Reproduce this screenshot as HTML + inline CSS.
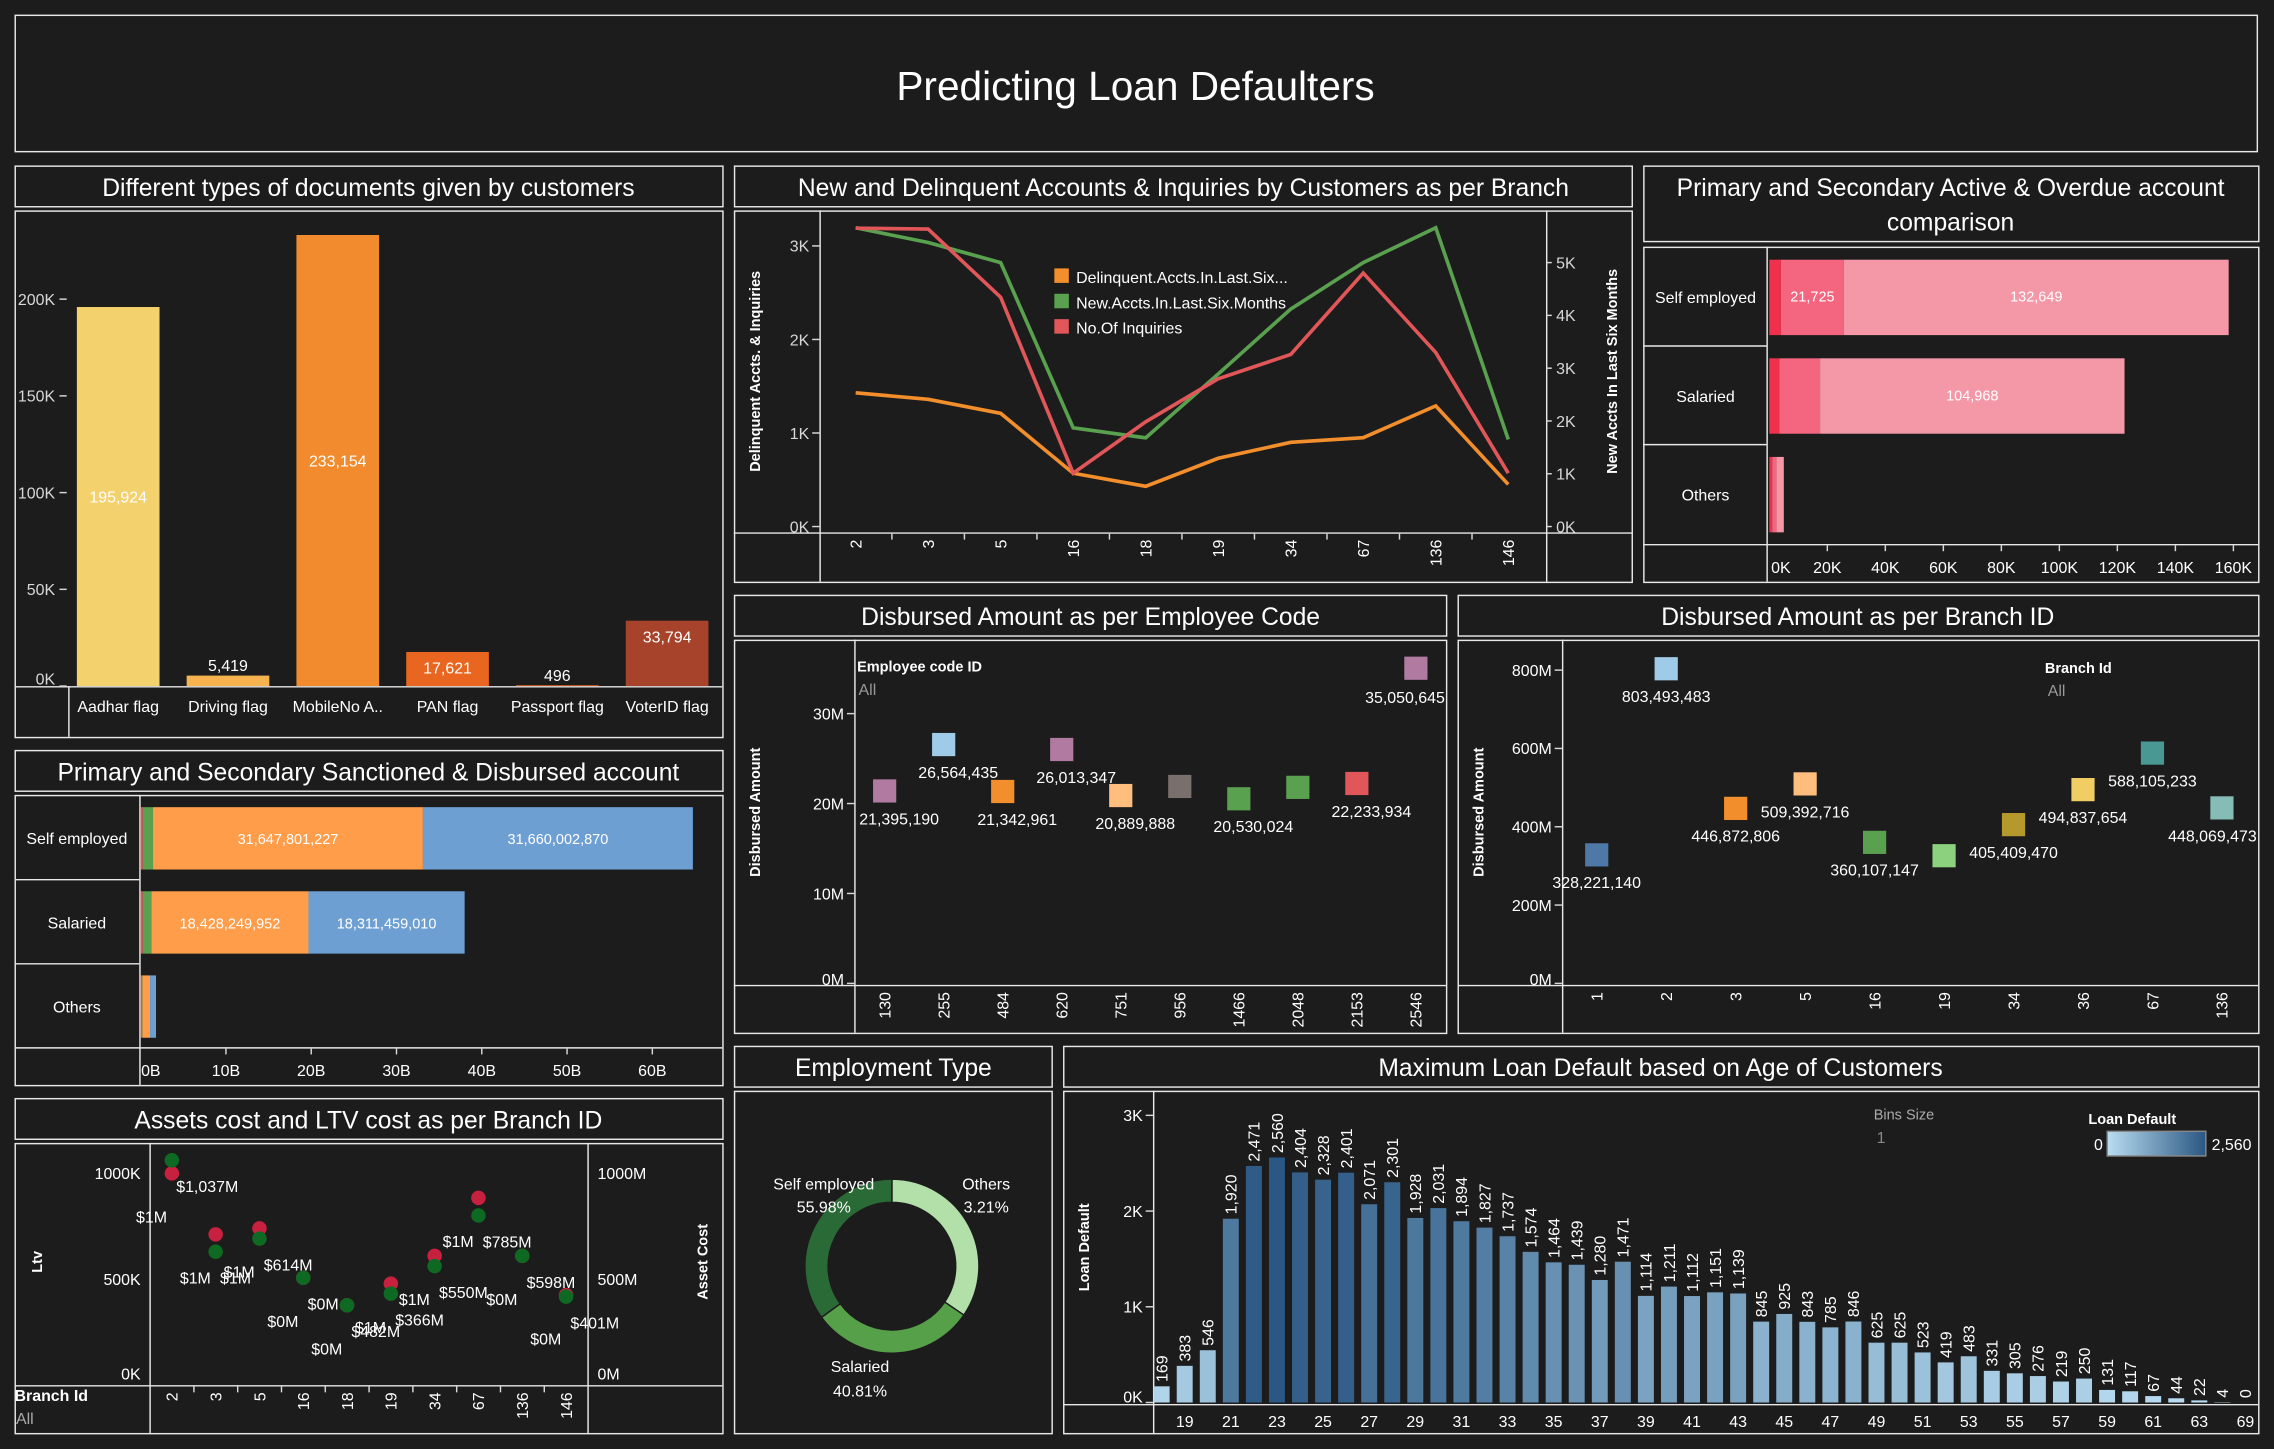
<!DOCTYPE html>
<html><head><meta charset="utf-8"><title>Predicting Loan Defaulters</title>
<style>
html,body{margin:0;padding:0;background:#1c1c1c;}
svg{display:block;}
text{font-family:"Liberation Sans",sans-serif;}
</style></head>
<body>
<svg id="dash" xmlns="http://www.w3.org/2000/svg" width="2274" height="1449" viewBox="0 0 1568 999">
<rect x="0" y="0" width="1568" height="999" fill="#1c1c1c"/>
<g fill="none" stroke="#e8e8e8" stroke-width="1">
<rect x="10.5" y="10.5" width="1546" height="94"/>
<rect x="10.5" y="114.5" width="488" height="28"/>
<rect x="10.5" y="145.5" width="488" height="363"/>
<rect x="506.5" y="114.5" width="619" height="28"/>
<rect x="506.5" y="145.5" width="619" height="256"/>
<rect x="1133.5" y="114.5" width="424" height="52"/>
<rect x="1133.5" y="170.5" width="424" height="231"/>
<rect x="10.5" y="517.5" width="488" height="28"/>
<rect x="10.5" y="548.5" width="488" height="200"/>
<rect x="10.5" y="757.5" width="488" height="28"/>
<rect x="10.5" y="788.5" width="488" height="200"/>
<rect x="506.5" y="410.5" width="491" height="28"/>
<rect x="506.5" y="441.5" width="491" height="271"/>
<rect x="1005.5" y="410.5" width="552" height="28"/>
<rect x="1005.5" y="441.5" width="552" height="271"/>
<rect x="506.5" y="721.5" width="219" height="28"/>
<rect x="506.5" y="752.5" width="219" height="236"/>
<rect x="733.5" y="721.5" width="824" height="28"/>
<rect x="733.5" y="752.5" width="824" height="236"/>
<line x1="10" y1="473.5" x2="498" y2="473.5"/><line x1="47.5" y1="473" x2="47.5" y2="508"/>
<line x1="506" y1="367.5" x2="1125" y2="367.5"/><line x1="565.5" y1="145" x2="565.5" y2="401"/><line x1="1066.5" y1="145" x2="1066.5" y2="401"/>
<line x1="1133" y1="238.5" x2="1218" y2="238.5"/><line x1="1133" y1="306.5" x2="1218" y2="306.5"/><line x1="1133" y1="375.5" x2="1557" y2="375.5"/><line x1="1218.5" y1="170" x2="1218.5" y2="401"/>
<line x1="10" y1="606.5" x2="96" y2="606.5"/><line x1="10" y1="664.5" x2="96" y2="664.5"/><line x1="10" y1="722.5" x2="498" y2="722.5"/><line x1="96.5" y1="548" x2="96.5" y2="748"/>
<line x1="10" y1="955.5" x2="498" y2="955.5"/><line x1="103.5" y1="788" x2="103.5" y2="988"/><line x1="405.5" y1="788" x2="405.5" y2="988"/>
<line x1="506" y1="679.5" x2="997" y2="679.5"/><line x1="589.5" y1="441" x2="589.5" y2="712"/>
<line x1="1005" y1="679.5" x2="1557" y2="679.5"/><line x1="1077.5" y1="441" x2="1077.5" y2="712"/>
<line x1="733" y1="968.5" x2="1557" y2="968.5"/><line x1="795.5" y1="752" x2="795.5" y2="988"/>
</g>
<g fill="#ffffff" text-anchor="middle" font-size="17">
<text x="783" y="69" font-size="28">Predicting Loan Defaulters</text>
<text x="254" y="135">Different types of documents given by customers</text>
<text x="816" y="135">New and Delinquent Accounts &amp; Inquiries by Customers as per Branch</text>
<text x="1345" y="135">Primary and Secondary Active &amp; Overdue account</text>
<text x="1345" y="159">comparison</text>
<text x="254" y="538">Primary and Secondary Sanctioned &amp; Disbursed account</text>
<text x="254" y="778">Assets cost and LTV cost as per Branch ID</text>
<text x="752" y="431">Disbursed Amount as per Employee Code</text>
<text x="1281" y="431">Disbursed Amount as per Branch ID</text>
<text x="616" y="742">Employment Type</text>
<text x="1145" y="742">Maximum Loan Default based on Age of Customers</text>
</g>
<g id="charts"></g>
</svg>
<script>
// ---------- DATA ----------
const docCats = ['Aadhar flag','Driving flag','MobileNo A..','PAN flag','Passport flag','VoterID flag'];
const docVals = [195924, 5419, 233154, 17621, 496, 33794];
const docTicks = [0, 50000, 100000, 150000, 200000];
const docTickLabels = ['0K','50K','100K','150K','200K'];

const branchCats = ['2','3','5','16','18','19','34','67','136','146'];
const delinqVals = [1430, 1360, 1210, 570, 430, 730, 900, 950, 1290, 450];
const inquiryVals = [3190, 3180, 2450, 570, 1120, 1580, 1840, 2710, 1860, 570];
const newAcctVals = [5660, 5380, 5000, 1870, 1680, 2890, 4120, 5000, 5660, 1650];
const leftTicks = [0, 1000, 2000, 3000];
const leftTickLabels = ['0K','1K','2K','3K'];
const rightTicks = [0, 1000, 2000, 3000, 4000, 5000];
const rightTickLabels = ['0K','1K','2K','3K','4K','5K'];

const empRows = ['Self employed','Salaried','Others'];
const overdueSeg1 = [4000, 3500, 1000];
const overdueSeg2 = [21725, 14000, 1500];
const overdueSeg3 = [132649, 104968, 2500];
const overdueTicks = [0,20000,40000,60000,80000,100000,120000,140000,160000];
const overdueTickLabels = ['0K','20K','40K','60K','80K','100K','120K','140K','160K'];

const sancSeg1 = [0.25e9, 0.25e9, 0.1e9];
const sancSeg2 = [1.2e9, 1.0e9, 0.1e9];
const sanctionedVals = [31647801227, 18428249952, 0.9e9];
const disbursedVals = [31660002870, 18311459010, 0.7e9];
const sancTicks = [0,10e9,20e9,30e9,40e9,50e9,60e9];
const sancTickLabels = ['0B','10B','20B','30B','40B','50B','60B'];

const ltvVals = [1000, 712, 740, 507, 377, 479, 610, 884, 610, 425];
const assetVals = [1062, 630, 692, 507, 377, 432, 562, 801, 610, 418];
const assetLabels = ['$1,037M','$1M','$614M','$0M','$482M','$366M','$550M','$785M','$598M','$401M'];
const ltvLabels = ['$1M','$1M','$1M','$0M','$0M','$1M','$1M','$1M','$0M','$0M'];
const ltvTicks = [0, 500, 1000];
const ltvTickLabels = ['0K','500K','1000K'];
const assetTickLabels = ['0M','500M','1000M'];

const empCodes = ['130','255','484','620','751','956','1466','2048','2153','2546'];
const empAmounts = [21.40, 26.56, 21.34, 26.01, 20.89, 21.9, 20.53, 21.8, 22.23, 35.05];
const empLabels = ['21,395,190','26,564,435','21,342,961','26,013,347','20,889,888','','20,530,024','','22,233,934','35,050,645'];
const empTicks = [0, 10, 20, 30];
const empTickLabels = ['0M','10M','20M','30M'];

const brIds = ['1','2','3','5','16','19','34','36','67','136'];
const brAmounts = [328.2, 803.5, 446.9, 509.4, 360.1, 326, 405.4, 494.8, 588.1, 448.1];
const brLabels = ['328,221,140','803,493,483','446,872,806','509,392,716','360,107,147','','405,409,470','494,837,654','588,105,233','448,069,473'];
const brTicks = [0, 200, 400, 600, 800];
const brTickLabels = ['0M','200M','400M','600M','800M'];

const empTypes = ['Others','Salaried','Self employed'];
const empShares = [34.5, 30.5, 35.0];
const empPctLabels = ['3.21%','40.81%','55.98%'];

const ageCats = ['18','19','20','21','22','23','24','25','26','27','28','29','30','31','32','33','34','35','36','37','38','39','40','41','42','43','44','45','46','47','48','49','50','51','52','53','54','55','56','57','58','59','60','61','62','63','64','69'];
const ageVals = [169,383,546,1920,2471,2560,2404,2328,2401,2071,2301,1928,2031,1894,1827,1737,1574,1464,1439,1280,1471,1114,1211,1112,1151,1139,845,925,843,785,846,625,625,523,419,483,331,305,276,219,250,131,117,67,44,22,4,0];
const ageTicks = [0, 1000, 2000, 3000];
const ageTickLabels = ['0K','1K','2K','3K'];

// ---------- HELPERS ----------
const NS = 'http://www.w3.org/2000/svg';
const root = document.getElementById('charts');
function mk(tag, attrs, parent, txt) {
  const e = document.createElementNS(NS, tag);
  for (const k in attrs) e.setAttribute(k, attrs[k]);
  if (txt !== undefined) e.textContent = txt;
  (parent || root).appendChild(e);
  return e;
}
function grp(name) {
  const g = mk('g', {});
  
  
  return g;
}
function fmt(n) { return Math.round(n).toLocaleString('en-US'); }
const TICK = '#d8d8d8';

// ---------- CHART 1 ----------
(function(){
  const g = grp('documents-chart');
  const y = v => 473 - v / 50000 * 66.7;
  const x = i => 81.5 + i * 75.7;
  const cols = ['#f3d16d','#f6b24e','#f28b2e','#e8661f','#cf561e','#a7422b'];
  docTicks.forEach((t, i) => {
    const tl = mk('text', {x: 38, y: y(t) + 4 - (i === 0 ? 5 : 0), fill: TICK, 'font-size': 11, 'text-anchor': 'end'}, g, docTickLabels[i]);
    
    
    mk('line', {x1: 41, x2: 46, y1: y(t), y2: y(t), stroke: TICK}, g);
  });
  docVals.forEach((v, i) => {
    const r = mk('rect', {x: x(i) - 28.5, y: y(v), width: 57, height: 473 - y(v), fill: cols[i]}, g);
    
    
    const h = 473 - y(v);
    const ly = h > 20 ? (h > 60 ? y(v) + h / 2 + 4 : y(v) + 15) : y(v) - 3;
    const lt = mk('text', {x: x(i), y: ly, fill: '#fff', 'font-size': 11, 'text-anchor': 'middle'}, g, fmt(v));
    
    
    const ct = mk('text', {x: x(i), y: 491, fill: '#fff', 'font-size': 11, 'text-anchor': 'middle'}, g, docCats[i]);
    
    
  });
})();

// ---------- CHART 2 ----------
(function(){
  const g = grp('accounts-line-chart');
  const x = i => 590 + i * 50;
  const yl = v => 363 - v / 1000 * 64.5;
  const yr = v => 363 - v / 1000 * 36.4;
  leftTicks.forEach((t, i) => {
    const tl = mk('text', {x: 558, y: yl(t) + 4, fill: TICK, 'font-size': 11, 'text-anchor': 'end'}, g, leftTickLabels[i]);
    
    
    mk('line', {x1: 560, x2: 565, y1: yl(t), y2: yl(t), stroke: TICK}, g);
  });
  rightTicks.forEach((t, i) => {
    const tl = mk('text', {x: 1073, y: yr(t) + 4, fill: TICK, 'font-size': 11}, g, rightTickLabels[i]);
    
    
    mk('line', {x1: 1066, x2: 1070, y1: yr(t), y2: yr(t), stroke: TICK}, g);
  });
  branchCats.forEach((c, i) => {
    const tl = mk('text', {x: 0, y: 0, fill: '#fff', 'font-size': 11, 'text-anchor': 'end', transform: `translate(${x(i) + 4},372) rotate(-90)`}, g, c);
    
    
    if (i > 0) mk('line', {x1: x(i) - 25, x2: x(i) - 25, y1: 368, y2: 372, stroke: TICK}, g);
  });
  const series = [[delinqVals, yl, '#f28e2b', 'delinquent-line'], [newAcctVals, yr, '#59a14f', 'new-accounts-line'], [inquiryVals, yl, '#e15759', 'inquiries-line']];
  series.forEach(s => {
    const pts = s[0].map((v, i) => x(i) + ',' + s[1](v)).join(' ');
    const p = mk('polyline', {points: pts, fill: 'none', stroke: s[2], 'stroke-width': 2.5}, g);
    
    
  });
  const legNames = ['Delinquent.Accts.In.Last.Six...','New.Accts.In.Last.Six.Months','No.Of Inquiries'];
  const legCols = ['#f28e2b','#59a14f','#e15759'];
  legNames.forEach((n, i) => {
    const lg = mk('g', {}, g);
    
    
    mk('rect', {x: 727, y: 185 + i * 17.5, width: 10, height: 10, fill: legCols[i]}, lg);
    mk('text', {x: 742, y: 195 + i * 17.5, fill: '#fff', 'font-size': 11}, lg, n);
  });
  const a1 = mk('text', {x: 0, y: 0, fill: '#fff', 'font-size': 10, 'font-weight': 'bold', 'text-anchor': 'middle', transform: 'translate(524,256) rotate(-90)'}, g, 'Delinquent Accts. & Inquiries');
  
  
  const a2 = mk('text', {x: 0, y: 0, fill: '#fff', 'font-size': 10, 'font-weight': 'bold', 'text-anchor': 'middle', transform: 'translate(1115,256) rotate(-90)'}, g, 'New Accts In Last Six Months');
  
  
})();

// ---------- CHART 3 ----------
(function(){
  const g = grp('active-overdue-chart');
  const x = v => 1220 + v / 1000 * 2.0;
  const cols = ['#f0304d','#f46680','#f497a7'];
  overdueTicks.forEach((t, i) => {
    const tl = mk('text', {x: Math.max(x(t), 1228), y: 395, fill: '#fff', 'font-size': 11, 'text-anchor': 'middle'}, g, overdueTickLabels[i]);
    
    
    if (i > 0) mk('line', {x1: x(t), x2: x(t), y1: 376, y2: 380, stroke: TICK}, g);
  });
  empRows.forEach((r, i) => {
    const cy = 205 + i * 68;
    const rl = mk('text', {x: 1176, y: cy + 4, fill: '#fff', 'font-size': 11, 'text-anchor': 'middle'}, g, r);
    
    
    let acc = 0;
    [overdueSeg1[i], overdueSeg2[i], overdueSeg3[i]].forEach((v, k) => {
      const b = mk('rect', {x: x(acc), y: cy - 26, width: x(acc + v) - x(acc), height: 52, fill: cols[k]}, g);
      
      
      if (x(acc + v) - x(acc) > 40 && k > 0) {
        mk('text', {x: (x(acc) + x(acc + v)) / 2, y: cy + 3, fill: '#fff', 'font-size': 10, 'text-anchor': 'middle'}, g, fmt(v));
      }
      acc += v;
    });
  });
})();

// ---------- CHART 4 ----------
(function(){
  const g = grp('sanctioned-disbursed-chart');
  const x = v => 97 + v / 1e9 * 5.88;
  const cols = ['#e15759','#59a14f','#ff9d4a','#6e9fd3'];
  sancTicks.forEach((t, i) => {
    const tl = mk('text', {x: Math.max(x(t), 104), y: 742, fill: '#fff', 'font-size': 11, 'text-anchor': 'middle'}, g, sancTickLabels[i]);
    
    
    if (i > 0) mk('line', {x1: x(t), x2: x(t), y1: 723, y2: 727, stroke: TICK}, g);
  });
  empRows.forEach((r, i) => {
    const cy = 578 + i * 58;
    const rl = mk('text', {x: 53, y: cy + 4, fill: '#fff', 'font-size': 11, 'text-anchor': 'middle'}, g, r);
    
    
    let acc = 0;
    [sancSeg1[i], sancSeg2[i], sanctionedVals[i], disbursedVals[i]].forEach((v, k) => {
      const b = mk('rect', {x: x(acc), y: cy - 21.5, width: x(acc + v) - x(acc), height: 43, fill: cols[k]}, g);
      
      
      if (x(acc + v) - x(acc) > 60) {
        mk('text', {x: (x(acc) + x(acc + v)) / 2, y: cy + 4, fill: '#fff', 'font-size': 10, 'text-anchor': 'middle'}, g, fmt(v));
      }
      acc += v;
    });
  });
})();

// ---------- CHART 5 ----------
(function(){
  const g = grp('assets-ltv-chart');
  const x = i => 118.5 + i * 30.2;
  const y = v => 955 - v * 0.146;
  ltvTicks.forEach((t, i) => {
    const tl = mk('text', {x: 97, y: y(t) + 4 - (i === 0 ? 8 : 0), fill: '#fff', 'font-size': 11, 'text-anchor': 'end'}, g, ltvTickLabels[i]);
    
    
    const tr = mk('text', {x: 412, y: y(t) + 4 - (i === 0 ? 8 : 0), fill: '#fff', 'font-size': 11}, g, assetTickLabels[i]);
    
    
  });
  branchCats.forEach((c, i) => {
    const tl = mk('text', {x: 0, y: 0, fill: '#fff', 'font-size': 11, 'text-anchor': 'end', transform: `translate(${x(i) + 4},960) rotate(-90)`}, g, c);
    
    
    if (i > 0) mk('line', {x1: x(i) - 15, x2: x(i) - 15, y1: 956, y2: 960, stroke: TICK}, g);
  });
  branchCats.forEach((c, i) => {
    const r = mk('circle', {cx: x(i), cy: y(ltvVals[i]), r: 5, fill: '#c8203f'}, g);
    
    
    const gr = mk('circle', {cx: x(i), cy: y(assetVals[i]), r: 5, fill: '#0e6a22'}, g);
    
    
    mk('text', {x: x(i) + 3, y: y(assetVals[i]) + 22, fill: '#fff', 'font-size': 11}, g, assetLabels[i]);
    mk('text', {x: x(i) - 14, y: y(ltvVals[i]) + 34, fill: '#fff', 'font-size': 11, 'text-anchor': 'middle'}, g, ltvLabels[i]);
  });
  const a1 = mk('text', {x: 0, y: 0, fill: '#fff', 'font-size': 10, 'font-weight': 'bold', 'text-anchor': 'middle', transform: 'translate(29,870) rotate(-90)'}, g, 'Ltv');
  
  
  const a2 = mk('text', {x: 0, y: 0, fill: '#fff', 'font-size': 10, 'font-weight': 'bold', 'text-anchor': 'middle', transform: 'translate(488,870) rotate(-90)'}, g, 'Asset Cost');
  
  
  const f1 = mk('text', {x: 10, y: 966, fill: '#fff', 'font-size': 11, 'font-weight': 'bold'}, g, 'Branch Id');
  
  
  const f2 = mk('text', {x: 11, y: 982, fill: '#aaa', 'font-size': 11}, g, 'All');
  
  
})();

// ---------- CHART 6 ----------
(function(){
  const g = grp('employee-code-chart');
  const x = i => 610 + i * 40.7;
  const y = v => 678 - v * 6.2;
  const cols = ['#b07aa1','#a0cbe8','#f28e2b','#b07aa1','#ffbe7d','#79706e','#59a14f','#59a14f','#e15759','#b07aa1'];
  empTicks.forEach((t, i) => {
    const tl = mk('text', {x: 582, y: y(t) + 4 - (i === 0 ? 3 : 0), fill: '#fff', 'font-size': 11, 'text-anchor': 'end'}, g, empTickLabels[i]);
    
    
    mk('line', {x1: 584, x2: 589, y1: y(t), y2: y(t), stroke: TICK}, g);
  });
  empCodes.forEach((c, i) => {
    const tl = mk('text', {x: 0, y: 0, fill: '#fff', 'font-size': 11, 'text-anchor': 'end', transform: `translate(${x(i) + 4},684) rotate(-90)`}, g, c);
    
    
    const s = mk('rect', {x: x(i) - 8, y: y(empAmounts[i]) - 8, width: 16, height: 16, fill: cols[i]}, g);
    
    
    if (empLabels[i]) {
      const right = x(i) > 960;
      mk('text', {x: right ? x(i) + 20 : x(i) + 10, y: y(empAmounts[i]) + (right ? 24 : 23), fill: '#fff', 'font-size': 11, 'text-anchor': right ? 'end' : 'middle'}, g, empLabels[i]);
    }
  });
  const a1 = mk('text', {x: 0, y: 0, fill: '#fff', 'font-size': 10, 'font-weight': 'bold', 'text-anchor': 'middle', transform: 'translate(524,560) rotate(-90)'}, g, 'Disbursed Amount');
  
  
  const f1 = mk('text', {x: 591, y: 463, fill: '#fff', 'font-size': 10, 'font-weight': 'bold'}, g, 'Employee code ID');
  
  
  const f2 = mk('text', {x: 592, y: 479, fill: '#999', 'font-size': 11}, g, 'All');
  
  
})();

// ---------- CHART 7 ----------
(function(){
  const g = grp('branch-id-chart');
  const x = i => 1101 + i * 47.9;
  const y = v => 678 - v * 0.27;
  const cols = ['#4e79a7','#a0cbe8','#f28e2b','#ffbe7d','#59a14f','#8cd17d','#b6992d','#f1ce63','#499894','#86bcb6'];
  brTicks.forEach((t, i) => {
    const tl = mk('text', {x: 1070, y: y(t) + 4 - (i === 0 ? 3 : 0), fill: '#fff', 'font-size': 11, 'text-anchor': 'end'}, g, brTickLabels[i]);
    
    
    mk('line', {x1: 1072, x2: 1077, y1: y(t), y2: y(t), stroke: TICK}, g);
  });
  brIds.forEach((c, i) => {
    const tl = mk('text', {x: 0, y: 0, fill: '#fff', 'font-size': 11, 'text-anchor': 'end', transform: `translate(${x(i) + 4},684) rotate(-90)`}, g, c);
    
    
    const s = mk('rect', {x: x(i) - 8, y: y(brAmounts[i]) - 8, width: 16, height: 16, fill: cols[i]}, g);
    
    
    if (brLabels[i]) {
      const right = x(i) > 1500;
      mk('text', {x: right ? x(i) + 24 : x(i), y: y(brAmounts[i]) + 23, fill: '#fff', 'font-size': 11, 'text-anchor': right ? 'end' : 'middle'}, g, brLabels[i]);
    }
  });
  const a1 = mk('text', {x: 0, y: 0, fill: '#fff', 'font-size': 10, 'font-weight': 'bold', 'text-anchor': 'middle', transform: 'translate(1023,560) rotate(-90)'}, g, 'Disbursed Amount');
  
  
  const f1 = mk('text', {x: 1410, y: 464, fill: '#fff', 'font-size': 10, 'font-weight': 'bold'}, g, 'Branch Id');
  
  
  const f2 = mk('text', {x: 1412, y: 480, fill: '#999', 'font-size': 11}, g, 'All');
  
  
})();

// ---------- CHART 8 ----------
(function(){
  const g = grp('employment-donut');
  const cx = 615, cy = 873, ro = 60, ri = 44;
  const cols = ['#b3dfa9','#55a048','#2a6a36'];
  const total = empShares.reduce((a, b) => a + b, 0);
  let a0 = 0;
  empShares.forEach((v, i) => {
    const a1 = a0 + v / total * Math.PI * 2;
    const p = (r, a) => [cx + r * Math.sin(a), cy - r * Math.cos(a)];
    const large = (a1 - a0) > Math.PI ? 1 : 0;
    const [x1, y1] = p(ro, a0), [x2, y2] = p(ro, a1), [x3, y3] = p(ri, a1), [x4, y4] = p(ri, a0);
    const s = mk('path', {d: `M${x1},${y1} A${ro},${ro} 0 ${large} 1 ${x2},${y2} L${x3},${y3} A${ri},${ri} 0 ${large} 0 ${x4},${y4} Z`, fill: cols[i], stroke: '#1c1c1c', 'stroke-width': 1}, g);
    
    
    a0 = a1;
  });
  const lbl = [[568, 820, 836], [680, 820, 836], [593, 946, 963]];
  const order = [2, 0, 1];
  order.forEach((k, j) => {
    const t1 = mk('text', {x: lbl[j][0], y: lbl[j][1], fill: '#fff', 'font-size': 11, 'text-anchor': 'middle'}, g, empTypes[k]);
    
    
    mk('text', {x: lbl[j][0], y: lbl[j][2], fill: '#fff', 'font-size': 11, 'text-anchor': 'middle'}, g, empPctLabels[k]);
  });
})();

// ---------- CHART 9 ----------
(function(){
  const g = grp('age-default-chart');
  const x = i => 801 + i * 15.9;
  const y = v => 967 - v / 1000 * 66;
  const lo = [185, 221, 241], hi = [42, 87, 131];
  const col = v => { const t = v / 2560; return 'rgb(' + lo.map((c, k) => Math.round(c + (hi[k] - c) * t)).join(',') + ')'; };
  ageTicks.forEach((t, i) => {
    const tl = mk('text', {x: 788, y: y(t) + 4 - (i === 0 ? 4 : 0), fill: '#fff', 'font-size': 11, 'text-anchor': 'end'}, g, ageTickLabels[i]);
    
    
    mk('line', {x1: 790, x2: 795, y1: y(t), y2: y(t), stroke: TICK}, g);
  });
  ageVals.forEach((v, i) => {
    const b = mk('rect', {x: x(i) - 5.5, y: y(v), width: 11, height: 967 - y(v), fill: col(v)}, g);
    
    
    mk('text', {x: 0, y: 0, fill: '#fff', 'font-size': 11, transform: `translate(${x(i) + 4},${y(v) - 3}) rotate(-90)`}, g, fmt(v));
    if (i % 2 === 1) {
      const tl = mk('text', {x: x(i), y: 984, fill: '#fff', 'font-size': 11, 'text-anchor': 'middle'}, g, ageCats[i]);
      
      
    }
  });
  const a1 = mk('text', {x: 0, y: 0, fill: '#fff', 'font-size': 10, 'font-weight': 'bold', 'text-anchor': 'middle', transform: 'translate(751,860) rotate(-90)'}, g, 'Loan Default');
  
  
  const b1 = mk('text', {x: 1292, y: 772, fill: '#aaa', 'font-size': 10}, g, 'Bins Size');
  
  
  const b2 = mk('text', {x: 1294, y: 788, fill: '#888', 'font-size': 11}, g, '1');
  
  
  const l1 = mk('text', {x: 1440, y: 775, fill: '#fff', 'font-size': 10, 'font-weight': 'bold'}, g, 'Loan Default');
  
  
  const defs = mk('defs', {}, g);
  const lg = mk('linearGradient', {id: 'ageGrad', x1: 0, x2: 1, y1: 0, y2: 0}, defs);
  mk('stop', {offset: '0', 'stop-color': col(0)}, lg);
  mk('stop', {offset: '1', 'stop-color': col(2560)}, lg);
  const gr = mk('rect', {x: 1453, y: 780, width: 68, height: 17, fill: 'url(#ageGrad)', stroke: '#888'}, g);
  
  
  mk('text', {x: 1450, y: 793, fill: '#fff', 'font-size': 11, 'text-anchor': 'end'}, g, '0');
  mk('text', {x: 1525, y: 793, fill: '#fff', 'font-size': 11}, g, '2,560');
})();
</script>
</body></html>
